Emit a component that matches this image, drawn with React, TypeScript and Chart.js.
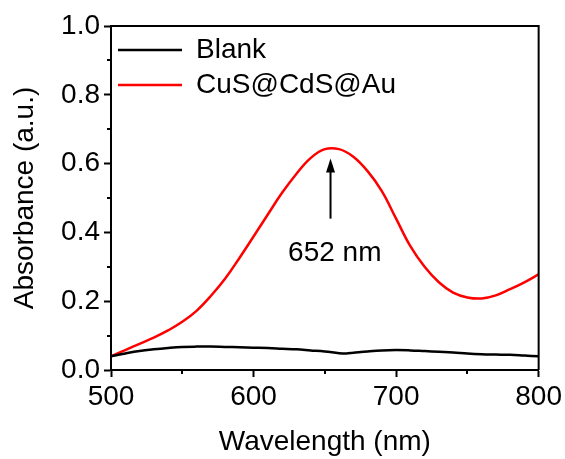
import React, { useEffect, useRef } from "react";
import { Chart, registerables } from "chart.js";

Chart.register(...registerables);

const blankWavelengths = [500, 510, 520, 530, 540, 550, 560, 570, 580, 590, 600, 610, 620, 630, 640, 650, 660, 665, 670, 680, 690, 700, 710, 720, 730, 740, 750, 760, 770, 780, 790, 800];
const blankValues = [0.040, 0.048, 0.055, 0.060, 0.064, 0.067, 0.068, 0.068, 0.067, 0.066, 0.065, 0.064, 0.062, 0.060, 0.057, 0.054, 0.049, 0.048, 0.050, 0.054, 0.057, 0.058, 0.057, 0.055, 0.053, 0.051, 0.048, 0.046, 0.045, 0.044, 0.042, 0.040];

const sampleWavelengths = [500, 510, 520, 530, 540, 550, 560, 570, 580, 590, 600, 610, 620, 630, 640, 650, 660, 670, 680, 690, 700, 710, 720, 730, 740, 750, 760, 770, 780, 790, 800];
const sampleValues = [0.040, 0.058, 0.076, 0.094, 0.115, 0.140, 0.172, 0.215, 0.265, 0.325, 0.388, 0.452, 0.515, 0.570, 0.616, 0.642, 0.642, 0.620, 0.578, 0.520, 0.440, 0.360, 0.300, 0.255, 0.225, 0.211, 0.208, 0.217, 0.235, 0.255, 0.278];

const seriesNames = ["Blank", "CuS@CdS@Au"];
const xTitle = "Wavelength (nm)";
const yTitle = "Absorbance (a.u.)";
const xMajorTicks = [500, 600, 700, 800];
const xMinorTicks = [550, 650, 750];
const yMajorTicks = [0, 0.2, 0.4, 0.6, 0.8, 1.0];
const yMinorTicks = [0.1, 0.3, 0.5, 0.7, 0.9];
const peakLabel = "652 nm";
const peakArrowX = 654;
const peakArrowFrom = 0.44;
const peakArrowTo = 0.615;
const peakLabelPos = [657, 0.34];

const FONT = "Arial, 'Liberation Sans', sans-serif";

const legendPlacePlugin = {
  id: "legendPlace",
  afterLayout(chart: any) {
    const lg = chart.legend;
    if (!lg) return;
    const h = lg.height;
    lg.top = chart.chartArea.top + 3;
    lg.bottom = lg.top + h;
  },
};

const framePlugin = {
  id: "frameAndAnnotations",
  afterDatasetsDraw(chart: any) {
    const { ctx, chartArea, scales } = chart;
    const xs = scales.x;
    const ys = scales.y;
    ctx.save();
    ctx.strokeStyle = "#000";
    ctx.lineWidth = 2;
    ctx.beginPath();
    ctx.moveTo(chartArea.left, chartArea.top);
    ctx.lineTo(chartArea.right, chartArea.top);
    ctx.lineTo(chartArea.right, chartArea.bottom);
    ctx.stroke();
    ctx.beginPath();
    xMinorTicks.forEach((v) => {
      const px = Math.round(xs.getPixelForValue(v));
      ctx.moveTo(px, chartArea.bottom);
      ctx.lineTo(px, chartArea.bottom + 4);
    });
    yMinorTicks.forEach((v) => {
      const py = Math.round(ys.getPixelForValue(v));
      ctx.moveTo(chartArea.left, py);
      ctx.lineTo(chartArea.left - 4, py);
    });
    ctx.stroke();
    const ax = xs.getPixelForValue(peakArrowX);
    const ay0 = ys.getPixelForValue(peakArrowFrom);
    const ay1 = ys.getPixelForValue(peakArrowTo);
    ctx.beginPath();
    ctx.moveTo(ax, ay0);
    ctx.lineTo(ax, ay1 + 10);
    ctx.stroke();
    ctx.fillStyle = "#000";
    ctx.beginPath();
    ctx.moveTo(ax, ay1);
    ctx.lineTo(ax - 4.5, ay1 + 14);
    ctx.lineTo(ax + 4.5, ay1 + 14);
    ctx.closePath();
    ctx.fill();
    ctx.font = `28px ${FONT}`;
    ctx.textAlign = "center";
    ctx.textBaseline = "middle";
    ctx.fillText(peakLabel, xs.getPixelForValue(peakLabelPos[0]), ys.getPixelForValue(peakLabelPos[1]));
    ctx.restore();
  },
};

export default function App() {
  const canvasRef = useRef<HTMLCanvasElement | null>(null);

  useEffect(() => {
    document.body.style.margin = "0";
    document.body.style.background = "#fff";
    const canvas = canvasRef.current;
    if (!canvas) return;
    Chart.defaults.font.family = FONT;
    Chart.defaults.color = "#000";
    const chart = new Chart(canvas, {
      type: "line",
      data: {
        datasets: [
          {
            label: seriesNames[0],
            data: blankWavelengths.map((x, i) => ({ x, y: blankValues[i] })),
            borderColor: "#000000",
            backgroundColor: "#000000",
            borderWidth: 2.5,
            pointRadius: 0,
            tension: 0.4,
          },
          {
            label: seriesNames[1],
            data: sampleWavelengths.map((x, i) => ({ x, y: sampleValues[i] })),
            borderColor: "#ff0000",
            backgroundColor: "#ff0000",
            borderWidth: 2.5,
            pointRadius: 0,
            tension: 0.4,
          },
        ],
      },
      options: {
        animation: false,
        responsive: false,
        maintainAspectRatio: false,
        layout: { padding: { left: 0, right: 26, top: 26, bottom: 0 } },
        plugins: {
          tooltip: { enabled: false },
          legend: {
            position: "chartArea" as any,
            align: "start",
            labels: {
              usePointStyle: true,
              pointStyle: "line",
              pointStyleWidth: 64,
              boxHeight: 28,
              padding: 7,
              color: "#000",
              font: { size: 28, family: FONT },
            },
          },
        },
        scales: {
          x: {
            type: "linear",
            min: 500,
            max: 800,
            afterBuildTicks: (scale: any) => {
              scale.ticks = xMajorTicks.map((v) => ({ value: v }));
            },
            afterFit: (scale: any) => {
              scale.height = 89;
            },
            ticks: { padding: 3, color: "#000", font: { size: 28, family: FONT }, maxRotation: 0 },
            grid: { drawOnChartArea: false, tickLength: 7, tickWidth: 2, tickColor: "#000" },
            border: { display: true, color: "#000", width: 2 },
            title: { display: true, text: xTitle, color: "#000", font: { size: 28, family: FONT }, padding: { top: 0, bottom: 0 } },
          },
          y: {
            type: "linear",
            min: 0,
            max: 1,
            afterBuildTicks: (scale: any) => {
              scale.ticks = yMajorTicks.map((v) => ({ value: v }));
            },
            afterFit: (scale: any) => {
              scale.width = 111;
            },
            ticks: { padding: 4, color: "#000", font: { size: 28, family: FONT }, callback: (v: any) => Number(v).toFixed(1) },
            grid: { drawOnChartArea: false, tickLength: 7, tickWidth: 2, tickColor: "#000" },
            border: { display: true, color: "#000", width: 2 },
            title: { display: true, text: yTitle, color: "#000", font: { size: 28, family: FONT }, padding: { top: 8, bottom: 8 } },
          },
        },
      },
      plugins: [legendPlacePlugin, framePlugin],
    });
    return () => chart.destroy();
  }, []);

  return (
    <div style={{ width: 565, height: 459 }}>
      <canvas ref={canvasRef} width={565} height={459} style={{ display: "block" }} />
    </div>
  );
}
